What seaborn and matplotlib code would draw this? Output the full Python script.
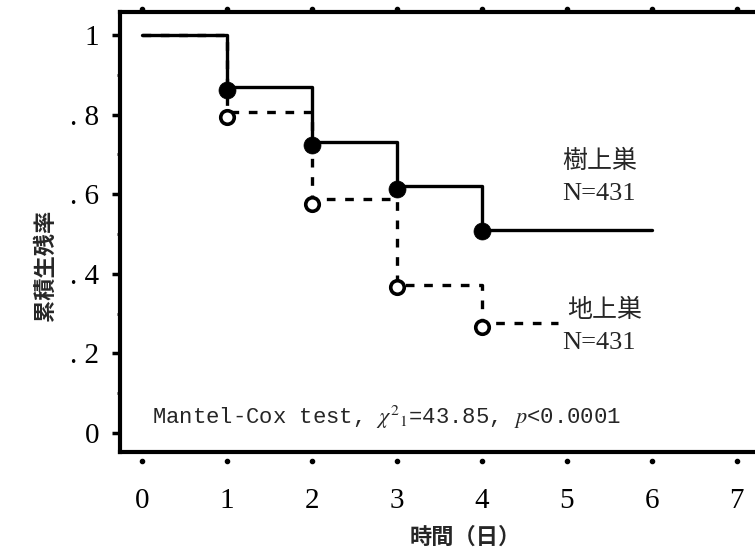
import numpy as np
import pandas as pd
import matplotlib
matplotlib.use('Agg')
import matplotlib.pyplot as plt
import matplotlib.transforms as mtransforms
from matplotlib.ticker import MultipleLocator
import seaborn as sns

# ---- data ----
days_tree = [0, 1, 2, 3, 4, 6]
surv_tree = [1.0, 0.869, 0.730, 0.620, 0.511, 0.511]
days_ground = [0, 1, 2, 3, 4, 4.9]
surv_ground = [1.0, 0.806, 0.587, 0.373, 0.277, 0.277]
marker_days = [1, 2, 3, 4]
marker_tree = [0.863, 0.724, 0.613, 0.507]
marker_ground = [0.795, 0.576, 0.366, 0.266]
x_ticks = [0, 1, 2, 3, 4, 5, 6, 7]
y_ticks = [0, 0.2, 0.4, 0.6, 0.8, 1.0]
y_ticklabels = ['0', '. 2', '. 4', '. 6', '. 8', '1']
label_tree = '樹上巣'
label_ground = '地上巣'
n_text = 'N=431'
test_text = r'Mantel-Cox test, $\chi^{2}{}_{1}$=43.85, $p$<0.0001'
xlabel = '時間（日）'
ylabel = '累積生残率'

sns.set_style('white')
plt.rcParams['font.family'] = ['Liberation Serif', 'Noto Sans CJK JP', 'DejaVu Sans']
plt.rcParams['mathtext.fontset'] = 'stix'

W, H = 755, 551
fig = plt.figure(figsize=(W / 100, H / 100), dpi=100)
ax = fig.add_axes([120 / W, 1 - 452 / H, 655 / W, 440 / H])

df_t = pd.DataFrame({'day': days_tree, 'surv': surv_tree})
df_g = pd.DataFrame({'day': days_ground, 'surv': surv_ground})

sns.lineplot(data=df_g, x='day', y='surv', ax=ax, drawstyle='steps-post',
             color='black', lw=2.4, linestyle=(0, (2.6, 2.9)),
             estimator=None, sort=False, zorder=2)
sns.lineplot(data=df_t, x='day', y='surv', ax=ax, drawstyle='steps-post',
             color='black', lw=2.4, estimator=None, sort=False, zorder=3)

sns.scatterplot(x=marker_days, y=marker_ground, ax=ax, s=95, color='white',
                edgecolor='black', linewidth=2.6, zorder=4)
sns.scatterplot(x=marker_days, y=marker_tree, ax=ax, s=150, color='black',
                edgecolor='black', linewidth=0.5, zorder=5)

ax.set_xlim(-0.259, 7.45)
ax.set_ylim(-0.048, 1.058)

for s in ax.spines.values():
    s.set_visible(True)
    s.set_linewidth(3)
    s.set_color('black')

ax.set_xticks(x_ticks)
ax.tick_params(axis='x', length=0, pad=26, labelsize=21, colors='black')
ax.set_yticks(y_ticks, y_ticklabels)
ax.tick_params(axis='y', which='major', direction='out', length=6, width=2.5,
               pad=9, labelsize=21, colors='black', left=True)
ax.yaxis.set_minor_locator(MultipleLocator(0.1))
ax.tick_params(axis='y', which='minor', direction='out', length=2.5, width=2,
               left=True)
ax.set_xlabel('')
ax.set_ylabel('')

trans = mtransforms.blended_transform_factory(ax.transData, ax.transAxes)
ax.plot(x_ticks, [-0.02] * len(x_ticks), 'o', ms=3, color='black',
        transform=trans, clip_on=False)
ax.plot(x_ticks, [1.006] * len(x_ticks), 'o', ms=3, color='black',
        transform=trans, clip_on=False)

cjk = ['Noto Sans CJK JP', 'DejaVu Sans']
ax.text(4.95, 0.683, label_tree, fontsize=18, family=cjk, va='center', ha='left')
ax.text(4.95, 0.600, n_text, fontsize=19, va='center', ha='left')
ax.text(5.0, 0.310, label_ground, fontsize=18, family=cjk, va='center', ha='left')
ax.text(4.95, 0.227, n_text, fontsize=19, va='center', ha='left')

ax.text(0.12, 0.04, test_text, fontsize=16, family=['Liberation Mono', 'DejaVu Sans Mono'],
        va='center', ha='left')

fig.text(465 / W, 1 - 537 / H, xlabel, fontsize=16, family=cjk, weight='bold',
         ha='center', va='center')
fig.text(45 / W, 1 - 265 / H, ylabel, fontsize=16, family=cjk, weight='bold',
         ha='center', va='center', rotation=90)

fig.savefig('out.png', dpi=100)
